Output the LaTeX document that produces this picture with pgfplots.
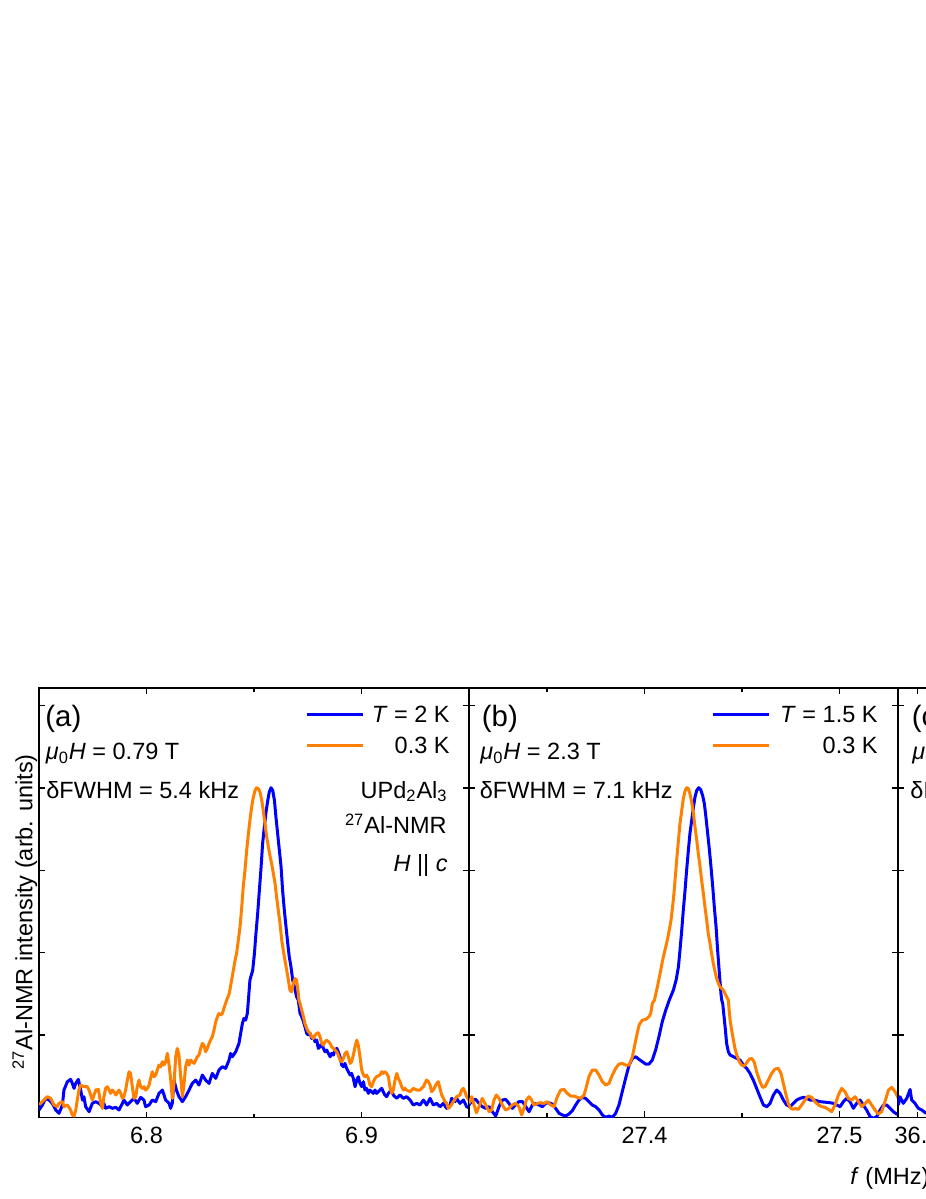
\documentclass[border=0pt]{standalone}
\usepackage{fontspec}
\setmainfont{Liberation Sans}
\usepackage{pgfplots}
\pgfplotsset{compat=1.18}
\definecolor{cblue}{RGB}{0,0,255}
\definecolor{corange}{RGB}{255,128,0}
\newcommand{\fs}{\fontsize{11.75}{14}\selectfont}
\newcommand{\fb}{\fontsize{14.7}{17}\selectfont}
\pgfplotsset{
  panel/.style={
    scale only axis, height=214.75pt,
    ymin=0, ymax=1.303,
    ytick={0.25,0.5,0.75,1,1.25}, yticklabels={},
    tick align=inside, tick pos=both,
    major tick length=3pt, minor tick length=2pt,
    axis line style={line width=0.8pt},
    tick style={black, line width=0.7pt},
    tick label style={font=\fs},
    label style={font=\fs},
    /pgf/number format/assume math mode=true,
    xticklabel style={yshift=-1.5pt},
    legend cell align=right,
    legend style={draw=none, fill=none, inner sep=0pt, font=\fs,
      nodes={inner sep=0pt, text height=8.4pt, text depth=0pt},
      row sep=7.1pt, anchor=north east},
    legend image code/.code={\draw[#1] (0pt,0pt) -- (28pt,0pt);},
  },
  cb/.style={cblue, line width=1.5pt, line join=round},
  co/.style={corange, line width=1.5pt, line join=round},
}
\begin{document}
\begin{tikzpicture}
\path[use as bounding box] (0,0) rectangle (463pt,599.5pt);
\clip (0,0) rectangle (463pt,599.5pt);
% ---------------- panel (a)
\begin{axis}[panel, at={(19.5pt,40.75pt)}, anchor=south west, width=215pt,
  xmin=6.75, xmax=6.95, xtick={6.8,6.9}, xticklabels={6.8,6.9}, minor xtick={6.85},
  ylabel={\textsuperscript{27}Al-NMR intensity (arb. units)},
  ylabel style={at={(axis description cs:-0.033,0.4785)}, anchor=center},
  legend style={at={(axis description cs:0.9558,0.959)}, column sep=3.75pt}]
\addplot[cb] coordinates {
(6.7500,0.0227) (6.7516,0.0379) (6.7531,0.0581) (6.7547,0.0530) (6.7562,0.0429) (6.7578,0.0227) (6.7593,0.0126) (6.7609,0.0379) (6.7616,0.0833) (6.7632,0.1086) (6.7647,0.1157) (6.7655,0.1035) (6.7663,0.0884) (6.7671,0.1035) (6.7683,0.1157) (6.7694,0.0833) (6.7702,0.0530) (6.7709,0.0631) (6.7717,0.0328) (6.7733,0.0177) (6.7748,0.0429) (6.7764,0.0480) (6.7779,0.0429) (6.7795,0.0328) (6.7802,0.0429) (6.7810,0.0278) (6.7826,0.0328) (6.7841,0.0278) (6.7857,0.0308) (6.7872,0.0227) (6.7888,0.0429) (6.7895,0.0530) (6.7911,0.0379) (6.7926,0.0480) (6.7942,0.0581) (6.7957,0.0429) (6.7973,0.0611) (6.7988,0.0530) (6.7996,0.0328) (6.8012,0.0379) (6.8027,0.0530) (6.8043,0.0480) (6.8058,0.0732) (6.8074,0.0833) (6.8089,0.0530) (6.8105,0.0429) (6.8112,0.0278) (6.8120,0.0429) (6.8128,0.1136) (6.8139,0.0833) (6.8151,0.0631) (6.8167,0.0480) (6.8182,0.0631) (6.8198,0.0833) (6.8213,0.1035) (6.8229,0.1136) (6.8244,0.0985) (6.8260,0.1288) (6.8275,0.1136) (6.8291,0.1035) (6.8306,0.1338) (6.8322,0.1187) (6.8337,0.1439) (6.8353,0.1540) (6.8368,0.1490) (6.8384,0.1742) (6.8391,0.1944) (6.8399,0.1843) (6.8415,0.1995) (6.8430,0.2247) (6.8438,0.2551) (6.8446,0.2854) (6.8453,0.3005) (6.8461,0.2955) (6.8469,0.3157)
(6.8474,0.3561) (6.8481,0.4167) (6.8494,0.4470) (6.8502,0.4975) (6.8509,0.5581) (6.8517,0.6187) (6.8525,0.6894) (6.8533,0.7601) (6.8540,0.8308) (6.8548,0.8813) (6.8556,0.9268) (6.8564,0.9621) (6.8571,0.9874) (6.8579,1.0005) (6.8587,0.9924) (6.8595,0.9621) (6.8602,0.9116) (6.8610,0.8611) (6.8618,0.8106) (6.8626,0.7601) (6.8633,0.6894) (6.8641,0.6288) (6.8649,0.5783) (6.8657,0.5278) (6.8664,0.4874) (6.8672,0.4571) (6.8680,0.4167) (6.8688,0.3965) (6.8698,0.3662) (6.8706,0.3561)
(6.8714,0.3157) (6.8722,0.3056) (6.8730,0.2904) (6.8737,0.2753) (6.8745,0.2551) (6.8753,0.2500) (6.8761,0.2551) (6.8768,0.2399) (6.8776,0.2449) (6.8784,0.2298) (6.8792,0.2348) (6.8799,0.2096) (6.8807,0.2146) (6.8815,0.2247) (6.8823,0.2096) (6.8830,0.1995) (6.8838,0.2045) (6.8846,0.1944) (6.8854,0.1843) (6.8861,0.1944) (6.8869,0.1894) (6.8877,0.2045) (6.8885,0.2096) (6.8892,0.1995) (6.8900,0.1843) (6.8908,0.1591) (6.8916,0.1540) (6.8923,0.1641) (6.8931,0.1490) (6.8939,0.1389) (6.8947,0.1288) (6.8954,0.1338) (6.8962,0.1187) (6.8970,0.0934) (6.8978,0.1136) (6.8985,0.1237) (6.8993,0.1035) (6.9001,0.0934) (6.9009,0.1086) (6.9016,0.0833) (6.9024,0.0884) (6.9032,0.0732) (6.9039,0.0833) (6.9047,0.0783) (6.9055,0.0732) (6.9063,0.0833) (6.9070,0.0732) (6.9078,0.0783) (6.9086,0.0833) (6.9094,0.0884) (6.9101,0.0783) (6.9109,0.0682) (6.9117,0.0631) (6.9125,0.0732) (6.9132,0.0783) (6.9140,0.0833) (6.9148,0.0682) (6.9164,0.0581) (6.9179,0.0682) (6.9195,0.0581) (6.9210,0.0631) (6.9226,0.0530) (6.9241,0.0379) (6.9257,0.0429) (6.9272,0.0379) (6.9288,0.0530) (6.9303,0.0379) (6.9319,0.0581) (6.9334,0.0379) (6.9350,0.0429) (6.9365,0.0328) (6.9381,0.0429) (6.9396,0.0278) (6.9412,0.0379) (6.9419,0.0581) (6.9427,0.0530) (6.9435,0.0480) (6.9442,0.0581) (6.9458,0.0429) (6.9474,0.0530) (6.9489,0.0328) (6.9505,0.0278)
};
\addlegendentry{\textit{T} = 2 K}
\addplot[co] coordinates {
(6.7500,0.0400) (6.7508,0.0429) (6.7523,0.0530) (6.7539,0.0631) (6.7554,0.0581) (6.7570,0.0379) (6.7585,0.0328) (6.7593,0.0429) (6.7609,0.0480) (6.7616,0.0328) (6.7632,0.0379) (6.7647,0.0227) (6.7655,0.0076) (6.7663,0.0045) (6.7671,0.0227) (6.7678,0.0530) (6.7686,0.0833) (6.7694,0.0985) (6.7709,0.0934) (6.7725,0.0934) (6.7733,0.0833) (6.7740,0.0682) (6.7748,0.0530) (6.7764,0.0833) (6.7776,0.0854) (6.7787,0.0429) (6.7795,0.0278) (6.7802,0.0631) (6.7810,0.0884) (6.7818,0.0934) (6.7826,0.0833) (6.7833,0.0732) (6.7841,0.0833) (6.7849,0.0783) (6.7857,0.0682) (6.7872,0.0833) (6.7880,0.0732) (6.7888,0.0581) (6.7895,0.0631) (6.7903,0.0833) (6.7911,0.1136) (6.7919,0.1389) (6.7926,0.1338) (6.7934,0.0934) (6.7942,0.0581) (6.7950,0.0631) (6.7957,0.0934) (6.7965,0.1136) (6.7973,0.0934) (6.7981,0.0884) (6.7988,0.0934) (6.7996,0.0833) (6.8004,0.0884) (6.8012,0.0985) (6.8019,0.1187) (6.8027,0.1389) (6.8035,0.1237) (6.8043,0.1288) (6.8050,0.1439) (6.8058,0.1591) (6.8066,0.1540) (6.8074,0.1692) (6.8081,0.1591) (6.8089,0.1692) (6.8097,0.1944) (6.8105,0.1591) (6.8112,0.1187) (6.8120,0.0581) (6.8128,0.1035) (6.8136,0.1843) (6.8143,0.2096) (6.8151,0.1894) (6.8159,0.1237) (6.8167,0.0631) (6.8174,0.0985) (6.8182,0.1540) (6.8190,0.1742) (6.8198,0.1591) (6.8205,0.1742) (6.8213,0.1692) (6.8221,0.1641) (6.8229,0.1742) (6.8236,0.1843) (6.8244,0.1894) (6.8252,0.2096) (6.8260,0.2247) (6.8267,0.2197) (6.8275,0.1995) (6.8283,0.2096) (6.8291,0.2247) (6.8298,0.2348) (6.8306,0.2449) (6.8314,0.2652) (6.8322,0.2904) (6.8330,0.3056) (6.8337,0.3157) (6.8345,0.3106) (6.8353,0.3157) (6.8360,0.3308)
(6.8373,0.3561) (6.8385,0.3763) (6.8396,0.4167) (6.8404,0.4470) (6.8412,0.4773) (6.8419,0.4975) (6.8427,0.5379) (6.8435,0.5783) (6.8443,0.6389) (6.8450,0.6995) (6.8458,0.7500) (6.8466,0.8106) (6.8474,0.8611) (6.8481,0.9015) (6.8489,0.9419) (6.8497,0.9722) (6.8505,0.9924) (6.8512,1.0005) (6.8520,0.9975) (6.8528,0.9874) (6.8536,0.9621) (6.8543,0.9318) (6.8551,0.8914) (6.8559,0.8510) (6.8567,0.8207) (6.8574,0.7955) (6.8582,0.7702) (6.8590,0.7399) (6.8598,0.7096) (6.8605,0.6692) (6.8613,0.6288) (6.8621,0.5884) (6.8629,0.5379) (6.8636,0.5076) (6.8644,0.4773) (6.8652,0.4470) (6.8660,0.4167) (6.8667,0.3864) (6.8675,0.3813) (6.8683,0.4066) (6.8691,0.4217) (6.8698,0.4167) (6.8706,0.3763) (6.8709,0.3561)
(6.8714,0.3460) (6.8722,0.3258) (6.8730,0.3056) (6.8737,0.2854) (6.8745,0.2702) (6.8753,0.2601) (6.8761,0.2551) (6.8768,0.2449) (6.8776,0.2399) (6.8784,0.2500) (6.8792,0.2551) (6.8799,0.2571) (6.8807,0.2449) (6.8815,0.2247) (6.8823,0.2197) (6.8830,0.2298) (6.8838,0.2348) (6.8846,0.2298) (6.8854,0.2247) (6.8861,0.2146) (6.8869,0.2096) (6.8877,0.2045) (6.8885,0.1995) (6.8892,0.1894) (6.8900,0.1742) (6.8908,0.1692) (6.8916,0.1793) (6.8923,0.1944) (6.8931,0.1995) (6.8939,0.1843) (6.8947,0.1641) (6.8954,0.1692) (6.8962,0.1894) (6.8970,0.2146) (6.8978,0.2348) (6.8985,0.2197) (6.8993,0.1843) (6.9001,0.1439) (6.9009,0.1288) (6.9016,0.1237) (6.9024,0.1288) (6.9032,0.1187) (6.9039,0.0985) (6.9047,0.0934) (6.9055,0.1086) (6.9063,0.1187) (6.9070,0.1237) (6.9086,0.1288) (6.9094,0.1389) (6.9101,0.1338) (6.9109,0.1389) (6.9117,0.1338) (6.9125,0.1237) (6.9132,0.0934) (6.9140,0.0732) (6.9148,0.0833) (6.9156,0.1136) (6.9164,0.1338) (6.9171,0.1187) (6.9179,0.1086) (6.9187,0.0934) (6.9195,0.0833) (6.9202,0.0884) (6.9210,0.0833) (6.9226,0.0783) (6.9241,0.0884) (6.9257,0.0833) (6.9272,0.0833) (6.9288,0.0934) (6.9295,0.1035) (6.9303,0.1136) (6.9311,0.1086) (6.9319,0.0985) (6.9326,0.0783) (6.9334,0.0833) (6.9342,0.0934) (6.9350,0.1035) (6.9357,0.1086) (6.9365,0.0884) (6.9373,0.0682) (6.9381,0.0581) (6.9388,0.0480) (6.9396,0.0429) (6.9404,0.0278) (6.9412,0.0328) (6.9427,0.0480) (6.9442,0.0631) (6.9458,0.0682) (6.9466,0.0833) (6.9474,0.0884) (6.9481,0.0783) (6.9489,0.0631) (6.9505,0.0480)
};
\addlegendentry{0.3 K}
\end{axis}
% ---------------- panel (b)
\begin{axis}[panel, at={(234.5pt,40.75pt)}, anchor=south west, width=214.5pt,
  xmin=27.31, xmax=27.53, xtick={27.4,27.5}, xticklabels={27.4,27.5}, minor xtick={27.35,27.45},
  xlabel={\textit{f} (MHz)},
  xlabel style={at={(axis description cs:0.888,-0.157)}, anchor=base west, inner sep=0pt},
  legend style={at={(axis description cs:0.9534,0.959)}, column sep=5pt}]
\addplot[cb] coordinates {
(27.3100,0.0379) (27.3117,0.0530) (27.3134,0.0551) (27.3151,0.0429) (27.3168,0.0328) (27.3186,0.0278) (27.3203,0.0328) (27.3220,0.0177) (27.3237,0.0045) (27.3254,0.0328) (27.3271,0.0530) (27.3288,0.0551) (27.3305,0.0429) (27.3322,0.0278) (27.3339,0.0379) (27.3356,0.0480) (27.3374,0.0480) (27.3391,0.0328) (27.3408,0.0177) (27.3425,0.0379) (27.3442,0.0429) (27.3459,0.0379) (27.3476,0.0328) (27.3493,0.0429) (27.3510,0.0449) (27.3527,0.0409) (27.3544,0.0278) (27.3562,0.0126) (27.3579,0.0076) (27.3596,0.0045) (27.3613,0.0106) (27.3630,0.0207) (27.3647,0.0379) (27.3664,0.0530) (27.3681,0.0611) (27.3698,0.0581) (27.3715,0.0480) (27.3732,0.0379) (27.3750,0.0328) (27.3767,0.0227) (27.3784,0.0076) (27.3801,0.0005) (27.3818,0.0045) (27.3835,0.0005) (27.3852,0.0126) (27.3869,0.0379) (27.3886,0.0783) (27.3903,0.1187) (27.3921,0.1591) (27.3938,0.1793) (27.3955,0.1843) (27.3972,0.1763) (27.3989,0.1692) (27.4006,0.1621) (27.4023,0.1621) (27.4040,0.1742) (27.4057,0.2045) (27.4074,0.2449) (27.4091,0.2904) (27.4109,0.3258)
(27.4127,0.3561) (27.4148,0.3864) (27.4162,0.4167) (27.4174,0.4571) (27.4182,0.5076) (27.4191,0.5682) (27.4199,0.6288) (27.4208,0.6894) (27.4216,0.7500) (27.4225,0.8106) (27.4233,0.8611) (27.4242,0.9015) (27.4251,0.9419) (27.4259,0.9722) (27.4268,0.9924) (27.4278,1.0005) (27.4288,0.9944) (27.4298,0.9773) (27.4307,0.9520) (27.4315,0.9116) (27.4324,0.8611) (27.4333,0.8106) (27.4341,0.7601) (27.4350,0.6995) (27.4358,0.6389) (27.4367,0.5783) (27.4375,0.5076) (27.4384,0.4369) (27.4392,0.3763) (27.4396,0.3561)
(27.4401,0.3460) (27.4408,0.3056) (27.4415,0.2652) (27.4421,0.2247) (27.4430,0.1995) (27.4439,0.1894) (27.4456,0.1843) (27.4473,0.1793) (27.4490,0.1742) (27.4507,0.1591) (27.4524,0.1490) (27.4541,0.1338) (27.4558,0.1136) (27.4575,0.0884) (27.4592,0.0631) (27.4610,0.0379) (27.4627,0.0328) (27.4644,0.0429) (27.4661,0.0682) (27.4678,0.0833) (27.4695,0.0732) (27.4712,0.0530) (27.4729,0.0379) (27.4746,0.0328) (27.4763,0.0429) (27.4780,0.0530) (27.4798,0.0581) (27.4815,0.0611) (27.4832,0.0581) (27.4849,0.0530) (27.4866,0.0530) (27.4883,0.0510) (27.4900,0.0480) (27.4917,0.0470) (27.4934,0.0460) (27.4951,0.0449) (27.4968,0.0429) (27.4986,0.0379) (27.5003,0.0328) (27.5020,0.0480) (27.5037,0.0581) (27.5054,0.0480) (27.5071,0.0278) (27.5088,0.0429) (27.5105,0.0530) (27.5122,0.0379) (27.5139,0.0227) (27.5157,0.0025) (27.5174,-0.0025) (27.5191,0.0025) (27.5208,0.0227) (27.5225,0.0379) (27.5242,0.0379) (27.5259,0.0278) (27.5276,0.0177) (27.5293,0.0106) (27.5307,0.0076)
};
\addlegendentry{\textit{T} = 1.5 K}
\addplot[co] coordinates {
(27.3100,0.0429) (27.3114,0.0631) (27.3126,0.0379) (27.3138,0.0146) (27.3151,0.0328) (27.3168,0.0581) (27.3186,0.0379) (27.3203,0.0177) (27.3216,0.0227) (27.3228,0.0530) (27.3240,0.0682) (27.3254,0.0581) (27.3271,0.0379) (27.3288,0.0227) (27.3305,0.0278) (27.3322,0.0379) (27.3339,0.0429) (27.3356,0.0328) (27.3370,0.0076) (27.3382,0.0278) (27.3394,0.0530) (27.3408,0.0631) (27.3421,0.0530) (27.3433,0.0379) (27.3450,0.0429) (27.3468,0.0449) (27.3485,0.0429) (27.3502,0.0480) (27.3519,0.0379) (27.3536,0.0328) (27.3553,0.0631) (27.3570,0.0833) (27.3587,0.0854) (27.3604,0.0732) (27.3621,0.0652) (27.3638,0.0652) (27.3656,0.0611) (27.3673,0.0581) (27.3690,0.0682) (27.3702,0.0934) (27.3715,0.1237) (27.3732,0.1439) (27.3750,0.1439) (27.3767,0.1288) (27.3784,0.1086) (27.3801,0.0985) (27.3818,0.1035) (27.3835,0.1288) (27.3852,0.1490) (27.3869,0.1621) (27.3886,0.1641) (27.3903,0.1591) (27.3921,0.1591) (27.3938,0.1843) (27.3955,0.2348) (27.3972,0.2803) (27.3989,0.2955) (27.4006,0.2975) (27.4023,0.3056) (27.4032,0.3157) (27.4040,0.3460)
(27.4051,0.3561) (27.4066,0.3965) (27.4080,0.4369) (27.4093,0.4773) (27.4105,0.5076) (27.4117,0.5379) (27.4127,0.5682) (27.4136,0.5985) (27.4144,0.6389) (27.4151,0.6793) (27.4158,0.7298) (27.4165,0.7803) (27.4174,0.8409) (27.4182,0.8914) (27.4191,0.9318) (27.4199,0.9672) (27.4208,0.9904) (27.4216,1.0005) (27.4225,0.9975) (27.4233,0.9823) (27.4242,0.9571) (27.4251,0.9217) (27.4259,0.8813) (27.4268,0.8409) (27.4276,0.8005) (27.4285,0.7601) (27.4293,0.7197) (27.4302,0.6793) (27.4310,0.6389) (27.4319,0.5985) (27.4327,0.5581) (27.4336,0.5278) (27.4344,0.4975) (27.4353,0.4672) (27.4362,0.4419) (27.4370,0.4217) (27.4379,0.4066) (27.4387,0.3965) (27.4404,0.3864) (27.4421,0.3662) (27.4430,0.3561)
(27.4434,0.3258) (27.4439,0.2955) (27.4447,0.2652) (27.4456,0.2348) (27.4464,0.2096) (27.4473,0.1894) (27.4486,0.1692) (27.4498,0.1591) (27.4510,0.1561) (27.4524,0.1662) (27.4538,0.1773) (27.4550,0.1793) (27.4562,0.1692) (27.4575,0.1389) (27.4592,0.1086) (27.4606,0.0914) (27.4618,0.0934) (27.4635,0.1136) (27.4652,0.1338) (27.4669,0.1470) (27.4686,0.1490) (27.4700,0.1338) (27.4712,0.1035) (27.4726,0.0682) (27.4738,0.0409) (27.4750,0.0278) (27.4763,0.0247) (27.4772,0.0278) (27.4789,0.0247) (27.4806,0.0379) (27.4823,0.0530) (27.4840,0.0652) (27.4857,0.0611) (27.4874,0.0480) (27.4892,0.0379) (27.4909,0.0328) (27.4926,0.0308) (27.4943,0.0247) (27.4960,0.0177) (27.4977,0.0379) (27.4994,0.0682) (27.5011,0.0884) (27.5028,0.0783) (27.5045,0.0581) (27.5062,0.0530) (27.5080,0.0631) (27.5097,0.0480) (27.5114,0.0328) (27.5131,0.0429) (27.5148,0.0530) (27.5165,0.0379) (27.5182,0.0227) (27.5199,0.0106) (27.5216,0.0177) (27.5233,0.0480) (27.5251,0.0833) (27.5268,0.0914) (27.5285,0.0783) (27.5302,0.0581)
};
\addlegendentry{0.3 K}
\end{axis}
% ---------------- panel (c), cut by the frame
\begin{axis}[panel, at={(449pt,40.75pt)}, anchor=south west, width=214.5pt,
  xmin=36.09, xmax=36.31, xtick={36.1,36.2,36.3}, xticklabels={36.1,36.2,36.3}, minor xtick={36.15,36.25}]
\addplot[cb] coordinates {
(36.0902,0.0379) (36.0910,0.0630) (36.0927,0.0430) (36.0945,0.0582) (36.0962,0.0850) (36.0970,0.0530) (36.0987,0.0430) (36.1004,0.0279) (36.1022,0.0227) (36.1044,0.0127) (36.1064,0.0250) (36.1090,0.0350) (36.1120,0.0200)
};
\end{axis}
% ---------------- annotations
\node[font=\fb, anchor=base west, inner sep=0pt] at (22.5pt,236pt) {(a)};
\node[font=\fs, anchor=base west, inner sep=0pt] at (22.75pt,219.5pt) {\textit{μ}\textsubscript{0}\textit{H} = 0.79 T};
\node[font=\fs, anchor=base west, inner sep=0pt] at (23pt,200.25pt) {δFWHM = 5.4 kHz};
\node[font=\fs, anchor=base east, inner sep=0pt] at (224pt,200.35pt) {UPd\textsubscript{2}Al\textsubscript{3}};
\node[font=\fs, anchor=base east, inner sep=0pt] at (223.5pt,182.5pt) {\textsuperscript{27}Al-NMR};
\node[font=\fs, anchor=base east, inner sep=0pt] at (224pt,163.5pt) {\textit{H} || \textit{c}};
\node[font=\fb, anchor=base west, inner sep=0pt] at (240.75pt,236pt) {(b)};
\node[font=\fs, anchor=base west, inner sep=0pt] at (240pt,219.5pt) {\textit{μ}\textsubscript{0}\textit{H} = 2.3 T};
\node[font=\fs, anchor=base west, inner sep=0pt] at (239.75pt,200.25pt) {δFWHM = 7.1 kHz};
\node[font=\fb, anchor=base west, inner sep=0pt] at (455.75pt,236pt) {(c)};
\node[font=\fs, anchor=base west, inner sep=0pt] at (456pt,219.5pt) {\textit{μ}\textsubscript{0}\textit{H} = 3.2 T};
\node[font=\fs, anchor=base west, inner sep=0pt] at (455pt,200.25pt) {δFWHM = 8.0 kHz};
\end{tikzpicture}
\end{document}
